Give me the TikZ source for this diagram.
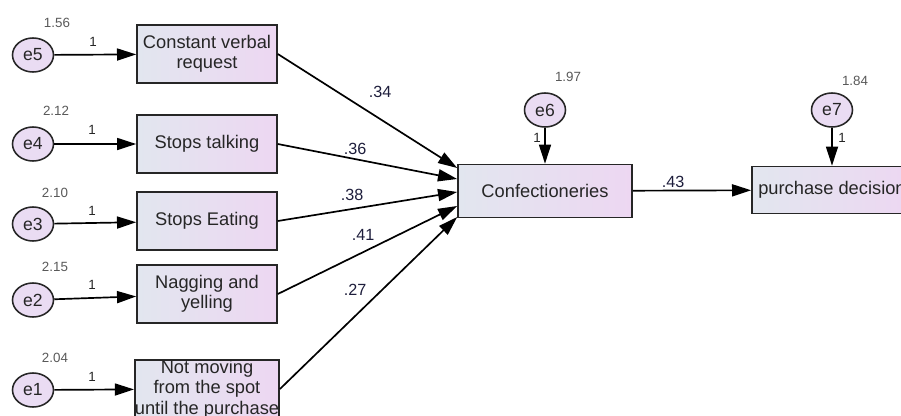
\documentclass[tikz,border=0pt]{standalone}
\usepackage{fontspec}
\setmainfont{Liberation Sans}
\usetikzlibrary{arrows.meta,shapes.geometric}

\definecolor{boxleft}{HTML}{E2E6EF}
\definecolor{boxright}{HTML}{EDD7F2}
\definecolor{errfill}{HTML}{EADCF3}
\definecolor{ink}{HTML}{262626}
\definecolor{coef}{HTML}{1E1E3C}

\tikzset{
  observed/.style={draw=ink, line width=1.1pt, left color=boxleft, right color=boxright,
    inner sep=0pt, align=center, text=ink, font=\fontsize{13}{14.5}\selectfont},
  error/.style={ellipse, draw=ink, line width=1.1pt, fill=errfill, inner sep=0pt,
    minimum width=1.025cm, minimum height=0.85cm, text=ink, font=\fontsize{12.5}{14}\selectfont},
  regr/.style={-{Triangle[length=0.48cm,width=0.3cm]}, line width=1.2pt},
  variance/.style={text=black!65, font=\fontsize{9.5}{10}\selectfont},
  weight/.style={text=ink, font=\fontsize{9.5}{10}\selectfont},
  coefficient/.style={text=coef, font=\fontsize{11.5}{12}\selectfont},
}

\begin{document}
\begin{tikzpicture}[x=0.025cm, y=-0.025cm]
  \useasboundingbox (0,0) rectangle (901,415);
  \clip (0,0) rectangle (901,415);
  \fill[white] (0,0) rectangle (901,415);

  % Observed indicators
  \node[observed, minimum width=3.5cm, minimum height=1.45cm] (b5) at (207,54) {Constant verbal\\request};
  \node[observed, minimum width=3.5cm, minimum height=1.45cm] (b4) at (207,144) {Stops talking};
  \node[observed, minimum width=3.5cm, minimum height=1.45cm] (b3) at (207,221) {Stops Eating};
  \node[observed, minimum width=3.5cm, minimum height=1.45cm] (b2) at (207,294) {Nagging and\\yelling};
  \node[observed, minimum width=3.5cm, minimum height=1.45cm] (b1) at (207,389) {Not moving\\from the spot\\until the purchase};

  % Endogenous variables
  \node[observed, minimum width=4.35cm, minimum height=1.325cm] (conf) at (545,191) {Confectioneries};
  \node[observed, minimum width=4cm, minimum height=1.175cm] (purch) at (832,190) {purchase decision};

  % Error terms
  \node[error] (e5) at (33,55) {e5};
  \node[error] (e4) at (33,144) {e4};
  \node[error] (e3) at (33,224) {e3};
  \node[error] (e2) at (33,300) {e2};
  \node[error] (e1) at (33,390) {e1};
  \node[error] (e6) at (545,110) {e6};
  \node[error] (e7) at (832,110) {e7};

  % Variances
  \node[variance] (v5) at (57,23) {1.56};
  \node[variance] (v4) at (56,111) {2.12};
  \node[variance] (v3) at (55,193) {2.10};
  \node[variance] (v2) at (55,267) {2.15};
  \node[variance] (v1) at (55,358) {2.04};
  \node[variance] (v6) at (568,77) {1.97};
  \node[variance] (v7) at (855,81) {1.84};

  % Error paths
  \draw[regr] (e5) -- (b5);
  \draw[regr] (e4) -- (b4);
  \draw[regr] (e3) -- (b3);
  \draw[regr] (e2) -- (b2);
  \draw[regr] (e1) -- (b1);
  \draw[regr] (e6) -- (conf);
  \draw[regr] (e7) -- (purch);
  \node[weight] (w5) at (93,42) {1};
  \node[weight] (w4) at (92,130) {1};
  \node[weight] (w3) at (92,211) {1};
  \node[weight] (w2) at (92,285) {1};
  \node[weight] (w1) at (92,377) {1};
  \node[weight] (w6) at (537,138) {1};
  \node[weight] (w7) at (842,138) {1};

  % Structural paths
  \draw[regr] (b5.east) -- ([yshift=0.575cm]conf.west);
  \draw[regr] (b4.east) -- ([yshift=0.3cm]conf.west);
  \draw[regr] (b3.east) -- ([yshift=-0.025cm]conf.west);
  \draw[regr] (b2.east) -- ([yshift=-0.375cm]conf.west);
  \draw[regr] (b1.east) -- ([yshift=-0.65cm]conf.west);
  \draw[regr] (conf) -- (purch);

  % Coefficients
  \node[coefficient] (k5) at (380,92) {.34};
  \node[coefficient] (k4) at (355,149) {.36};
  \node[coefficient] (k3) at (352,195) {.38};
  \node[coefficient] (k2) at (363,235) {.41};
  \node[coefficient] (k1) at (355,290) {.27};
  \node[coefficient] (k6) at (673,182) {.43};
\end{tikzpicture}
\end{document}
